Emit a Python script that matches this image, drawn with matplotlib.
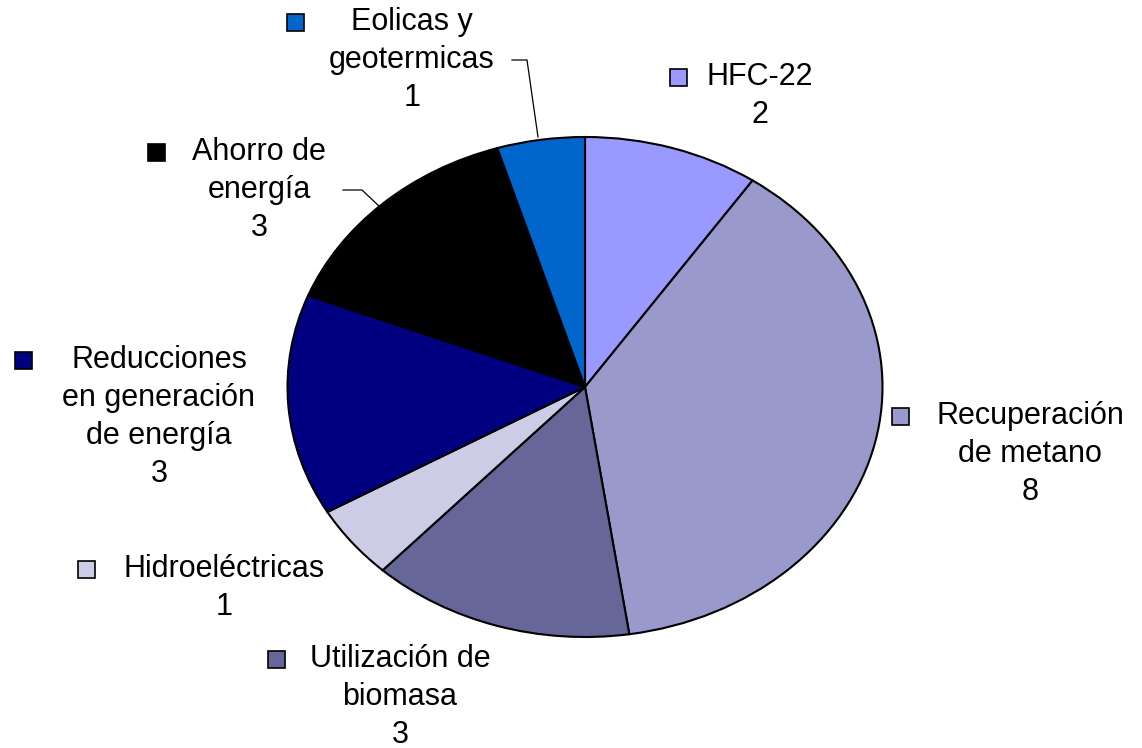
import matplotlib.pyplot as plt
from matplotlib.patches import Rectangle

# data
labels = ["HFC-22", "Recuperación de metano", "Utilización de biomasa",
          "Hidroeléctricas", "Reducciones en generación de energía",
          "Ahorro de energía", "Eolicas y geotermicas"]
values = [2, 8, 3, 1, 3, 3, 1]
colors = ["#9999FF", "#9999CC", "#666699", "#CCCCE6", "#000080", "#000000", "#0066CC"]

# label lines as they are wrapped in the chart
label_lines = [
    ["HFC-22"],
    ["Recuperación", "de metano"],
    ["Utilización de", "biomasa"],
    ["Hidroeléctricas"],
    ["Reducciones", "en generación", "de energía"],
    ["Ahorro de", "energía"],
    ["Eolicas y", "geotermicas"],
]

# label layout in pixels: (block center x, first line center y, marker left x)
label_pos = [
    (760, 77, 670),
    (1030, 416, 892),
    (400, 659, 268),
    (224, 569, 78),
    (159, 360, 15),
    (259, 152, 148),
    (412, 22, 287),
]

W, H = 1142, 748
fig = plt.figure(figsize=(W / 100, H / 100), dpi=100)

# pie: ellipse centered at (585, 387), rx 297, ry 250
cx, cy, rx, ry = 585, 387, 297.5, 250
pie_ax = fig.add_axes([(cx - rx) / W, 1 - (cy + ry) / H, 2 * rx / W, 2 * ry / H])
pie_ax.pie(values, colors=colors, startangle=90, counterclock=False, radius=1,
           wedgeprops=dict(edgecolor="black", linewidth=1.5))
pie_ax.set_aspect("auto")
pie_ax.set_xlim(-1, 1)
pie_ax.set_ylim(-1, 1)
pie_ax.axis("off")

# overlay axes in pixel coordinates for labels
ax = fig.add_axes([0, 0, 1, 1])
ax.set_xlim(0, W)
ax.set_ylim(H, 0)
ax.axis("off")
ax.patch.set_alpha(0)

font = dict(family="Liberation Sans", size=22, color="black")
line_h = 38
for lines, val, col, (bx, by, mx) in zip(label_lines, values, colors, label_pos):
    for i, t in enumerate(lines + [str(val)]):
        ax.text(bx, by + i * line_h, t, ha="center", va="center", **font)
    ax.add_patch(Rectangle((mx, by - 8.5), 17, 17, facecolor=col,
                           edgecolor="black", linewidth=1.2))

# leader lines
ax.plot([512, 527, 538], [60, 60, 137], color="black", linewidth=0.9)
ax.plot([343, 362, 380], [190, 190, 207], color="black", linewidth=0.9)

fig.savefig("out.png", dpi=100)
